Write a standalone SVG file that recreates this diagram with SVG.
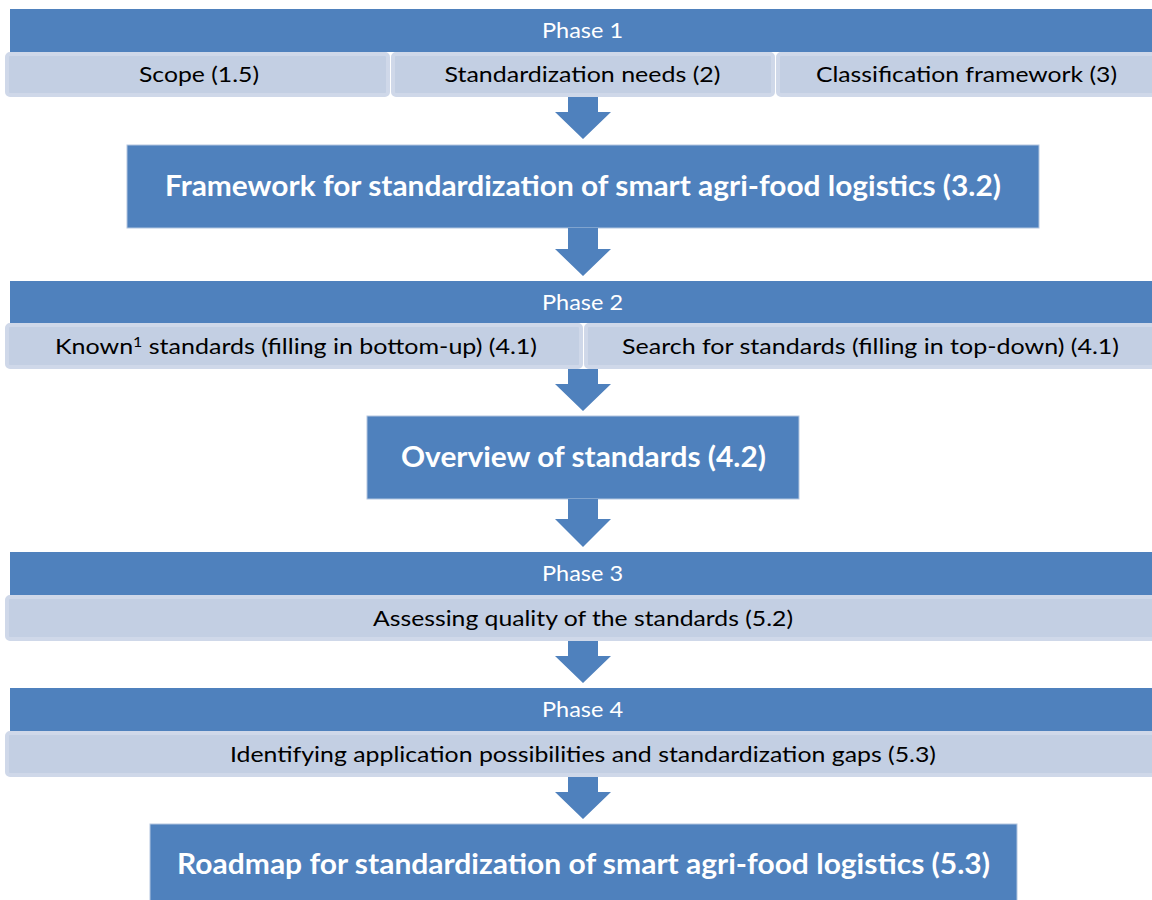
<svg xmlns="http://www.w3.org/2000/svg" width="1152" height="900" viewBox="0 0 1152 900">
<style>
.bar{fill:#4f81bd}
.cell{fill:#c3cfe3;stroke:#cfd8e9;stroke-width:4}
.box{fill:#4f81bd;stroke:#b3c6e0;stroke-width:1}
.arrow{fill:#4f81bd}
text{font-family:Lato,"Open Sans","Liberation Sans",sans-serif;text-anchor:middle}
.ph{fill:#ffffff;font-size:22px}
.ct{fill:#000000;font-size:22px}
.bt{fill:#ffffff;font-size:28px;font-weight:bold}
</style>
<rect width="1152" height="900" fill="#ffffff"/>

<g id="phase1">
<rect class="bar" x="10" y="9" width="1150" height="43"/>
<text class="ph" x="582.5" y="38" textLength="81" lengthAdjust="spacingAndGlyphs">Phase 1</text>
</g>
<g id="scope">
<rect class="cell" x="7" y="54" width="381" height="41" rx="3"/>
<text class="ct" x="199" y="82" textLength="120" lengthAdjust="spacingAndGlyphs">Scope (1.5)</text>
</g>
<g id="std-needs">
<rect class="cell" x="393" y="54" width="380" height="41" rx="3"/>
<text class="ct" x="582.5" y="82" textLength="276" lengthAdjust="spacingAndGlyphs">Standardization needs (2)</text>
</g>
<g id="classification">
<rect class="cell" x="778" y="54" width="384" height="41" rx="3"/>
<text class="ct" x="966.5" y="82" textLength="301" lengthAdjust="spacingAndGlyphs">Classification framework (3)</text>
</g>

<g id="framework">
<rect class="box" x="127" y="145" width="912" height="83"/>
<text class="bt" x="583" y="196" textLength="836" lengthAdjust="spacingAndGlyphs">Framework for standardization of smart agri-food logistics (3.2)</text>
</g>

<g id="phase2">
<rect class="bar" x="10" y="281" width="1150" height="42"/>
<text class="ph" x="582.5" y="310" textLength="81" lengthAdjust="spacingAndGlyphs">Phase 2</text>
</g>
<g id="known">
<rect class="cell" x="7" y="325" width="574" height="42" rx="3"/>
<text class="ct" x="296" y="354" textLength="482" lengthAdjust="spacingAndGlyphs">Known<tspan font-size="14" dy="-7">1</tspan><tspan dy="7"> standards (filling in bottom-up) (4.1)</tspan></text>
</g>
<g id="search">
<rect class="cell" x="586" y="325" width="576" height="42" rx="3"/>
<text class="ct" x="870.5" y="354" textLength="497" lengthAdjust="spacingAndGlyphs">Search for standards (filling in top-down) (4.1)</text>
</g>

<g id="overview">
<rect class="box" x="367" y="416" width="432" height="83"/>
<text class="bt" x="583.5" y="467" textLength="365" lengthAdjust="spacingAndGlyphs">Overview of standards (4.2)</text>
</g>

<g id="phase3">
<rect class="bar" x="10" y="552" width="1150" height="43"/>
<text class="ph" x="582.5" y="581" textLength="81" lengthAdjust="spacingAndGlyphs">Phase 3</text>
</g>
<g id="assessing">
<rect class="cell" x="7" y="597" width="1155" height="42" rx="3"/>
<text class="ct" x="583" y="626" textLength="420" lengthAdjust="spacingAndGlyphs">Assessing quality of the standards (5.2)</text>
</g>

<g id="phase4">
<rect class="bar" x="10" y="688" width="1150" height="43"/>
<text class="ph" x="582.5" y="717" textLength="81" lengthAdjust="spacingAndGlyphs">Phase 4</text>
</g>
<g id="identifying">
<rect class="cell" x="7" y="733" width="1155" height="42" rx="3"/>
<text class="ct" x="583" y="762" textLength="706" lengthAdjust="spacingAndGlyphs">Identifying application possibilities and standardization gaps (5.3)</text>
</g>

<g id="roadmap">
<rect class="box" x="150" y="824" width="867" height="90"/>
<text class="bt" x="583.5" y="874" textLength="813" lengthAdjust="spacingAndGlyphs">Roadmap for standardization of smart agri-food logistics (5.3)</text>
</g>

<g id="connectors">
<polygon class="arrow" points="568,97 598,97 598,112 611,112 583,139 555,112 568,112"/>
<polygon class="arrow" points="568,228 598,228 598,249 611,249 583,276 555,249 568,249"/>
<polygon class="arrow" points="568,369 598,369 598,384 611,384 583,411 555,384 568,384"/>
<polygon class="arrow" points="568,499 598,499 598,519 611,519 583,547 555,519 568,519"/>
<polygon class="arrow" points="568,641 598,641 598,656 611,656 583,683 555,656 568,656"/>
<polygon class="arrow" points="568,777 598,777 598,792 611,792 583,819 555,792 568,792"/>
</g>
</svg>
